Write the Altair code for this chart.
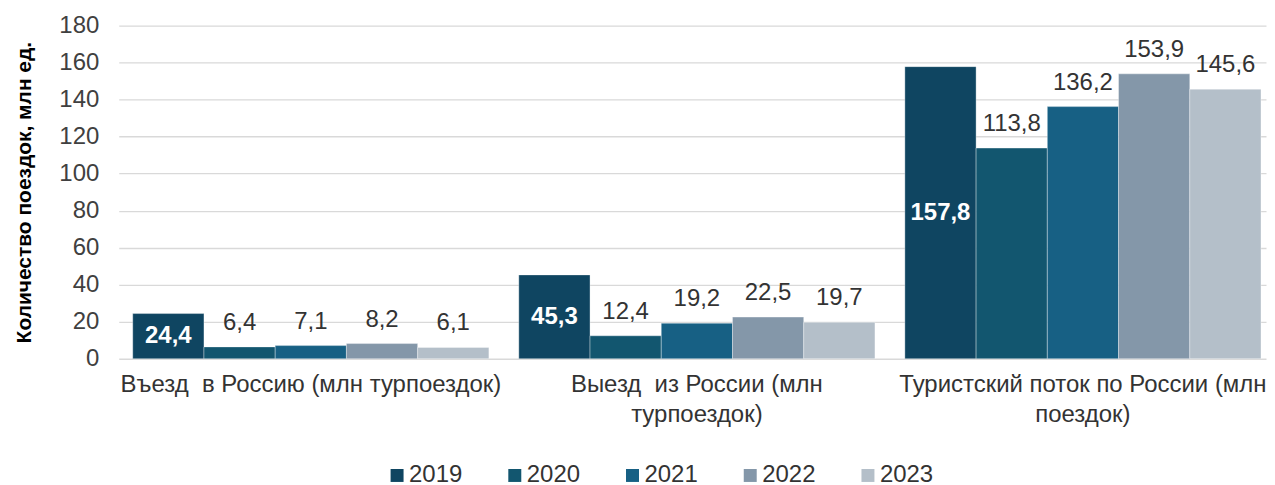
import altair as alt
import pandas as pd

categories = [
    "Въезд\u00a0 в Россию (млн турпоездок)",
    "Выезд\u00a0 из России (млн|турпоездок)",
    "Туристский поток по России (млн|поездок)",
]
years = ["2019", "2020", "2021", "2022", "2023"]
values = {
    "2019": [24.4, 45.3, 157.8],
    "2020": [6.4, 12.4, 113.8],
    "2021": [7.1, 19.2, 136.2],
    "2022": [8.2, 22.5, 153.9],
    "2023": [6.1, 19.7, 145.6],
}
colors = ["#0F4561", "#12566F", "#176084", "#8497A9", "#B4BFC9"]

rows = []
for y in years:
    for c, v in zip(categories, values[y]):
        rows.append({"cat": c, "year": y, "value": v})
df = pd.DataFrame(rows)

FONT = "Liberation Sans"

x = alt.X("cat:N", sort=categories,
          scale=alt.Scale(paddingInner=0.0775, paddingOuter=0.0246, align=0.737),
          axis=alt.Axis(title=None, labelAngle=0, labelExpr="split(datum.label, '|')",
                        labelFontSize=24, labelColor="#333333", labelFont=FONT,
                        labelLineHeight=30, labelPadding=14, ticks=False,
                        domain=False, labelLimit=0))
xo = alt.XOffset("year:N", sort=years, scale=alt.Scale(paddingInner=0, paddingOuter=0))

yaxis = alt.Axis(title="Количество поездок, млн ед.", values=list(range(0, 181, 20)),
                 titleFont=FONT, titleFontSize=21, titleFontWeight="bold",
                 titleColor="#000000", titlePadding=24,
                 labelFont=FONT, labelFontSize=24, labelColor="#404040",
                 labelPadding=20, ticks=False, domain=False,
                 gridColor="#D9D9D9", gridWidth=1.3)
yscale = alt.Scale(domain=[0, 180])

base = alt.Chart(df).transform_calculate(
    lbl="replace(format(datum.value, '.1f'), '.', ',')",
    half="datum.value / 2",
)

bars = base.mark_bar(stroke="#FFFFFF", strokeOpacity=0.35, strokeWidth=1).encode(
    x=x,
    xOffset=xo,
    y=alt.Y("value:Q", scale=yscale, axis=yaxis),
    color=alt.Color("year:N", sort=years, scale=alt.Scale(domain=years, range=colors),
                    legend=alt.Legend(title=None, orient="none", direction="horizontal",
                                      legendX=267, legendY=439,
                                      symbolType="square", symbolSize=169, symbolStrokeWidth=0,
                                      labelFont=FONT, labelFontSize=24, labelColor="#333333",
                                      columnPadding=40, labelOffset=0)),
)

inside = base.transform_filter("datum.year == '2019'").mark_text(
    font=FONT, fontSize=24, fontWeight="bold", color="white", baseline="middle"
).encode(x=x, xOffset=xo, y=alt.Y("half:Q", scale=yscale, axis=yaxis), text="lbl:N")

above = base.transform_filter("datum.year != '2019'").mark_text(
    font=FONT, fontSize=24, color="#333333", baseline="middle", dy=-24
).encode(x=x, xOffset=xo, y=alt.Y("value:Q", scale=yscale, axis=yaxis), text="lbl:N")

chart = alt.layer(bars, inside, above).properties(
    width=1150, height=334,
    padding={"left": 5, "top": 5, "right": 0, "bottom": 5},
).configure_view(stroke=None)

chart.save("out.html", embed_options={"renderer": "svg", "actions": False})
